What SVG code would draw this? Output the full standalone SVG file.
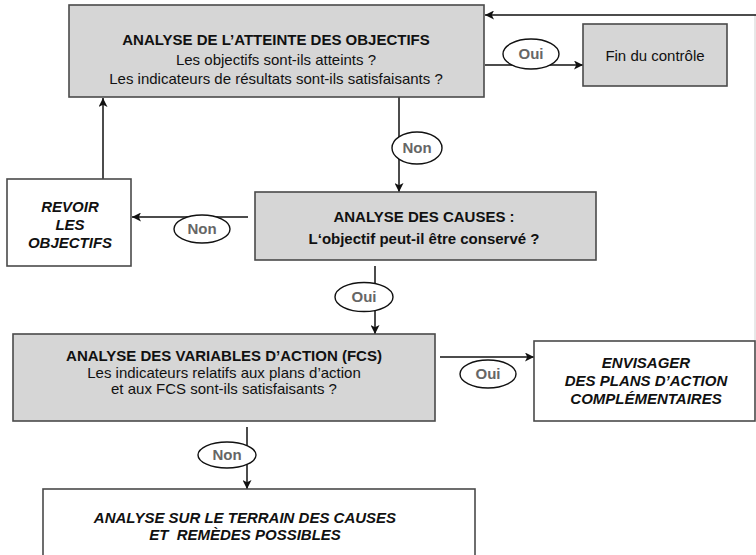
<svg xmlns="http://www.w3.org/2000/svg" width="756" height="555" viewBox="0 0 756 555">
  <defs>
    <marker id="arrow" viewBox="0 0 10 10" refX="10" refY="5" markerWidth="9" markerHeight="9" markerUnits="userSpaceOnUse" orient="auto">
      <path d="M0,0 L10,5 L0,10 L2.5,5 z" fill="#111"/>
    </marker>
    <style>
      .box { fill: #d6d6d6; stroke: #4a4a4a; stroke-width: 1.6; }
      .plain { fill: #ffffff; stroke: #4a4a4a; stroke-width: 1.6; }
      .line { fill: none; stroke: #111; stroke-width: 1.5; }
      .thin { fill: none; stroke: #d0d0d0; stroke-width: 1; }
      .oval { fill: #ffffff; stroke: #111; stroke-width: 1.4; }
      text { font-family: "Liberation Sans", Arial, sans-serif; fill: #111; text-anchor: middle; }
      .t { font-size: 15px; font-weight: bold; }
      .n { font-size: 15px; }
      .i { font-size: 15px; font-weight: bold; font-style: italic; }
      .lbl { font-size: 15px; font-weight: bold; fill: #666; }
    </style>
  </defs>

  <!-- connectors -->
  <g id="connectors">
    <!-- feedback from the right edge back to the top box -->
    <line class="thin" x1="755" y1="15" x2="755" y2="341"/>
    <line class="line" x1="756" y1="15" x2="485" y2="15" marker-end="url(#arrow)"/>
    <!-- top box -> Fin du contrôle -->
    <line class="line" x1="485" y1="65" x2="583" y2="65" marker-end="url(#arrow)"/>
    <!-- top box -> causes -->
    <line class="line" x1="399" y1="97" x2="399" y2="192" marker-end="url(#arrow)"/>
    <!-- causes -> revoir -->
    <line class="line" x1="248" y1="217" x2="132" y2="217" marker-end="url(#arrow)"/>
    <!-- revoir -> top box -->
    <line class="line" x1="103" y1="179" x2="103" y2="98" marker-end="url(#arrow)"/>
    <!-- causes -> FCS -->
    <line class="line" x1="375" y1="266" x2="375" y2="334" marker-end="url(#arrow)"/>
    <!-- FCS -> envisager -->
    <line class="line" x1="440" y1="357" x2="534" y2="357" marker-end="url(#arrow)"/>
    <!-- FCS -> terrain -->
    <line class="line" x1="247" y1="427" x2="247" y2="489" marker-end="url(#arrow)"/>

    <ellipse class="oval" cx="531" cy="54" rx="28" ry="15"/>
    <text class="lbl" x="531" y="59">Oui</text>
    <ellipse class="oval" cx="417" cy="148" rx="25" ry="16"/>
    <text class="lbl" x="417" y="153">Non</text>
    <ellipse class="oval" cx="202" cy="229" rx="28" ry="14"/>
    <text class="lbl" x="202" y="234">Non</text>
    <ellipse class="oval" cx="364" cy="297" rx="29" ry="14.5"/>
    <text class="lbl" x="364" y="302">Oui</text>
    <ellipse class="oval" cx="488" cy="374" rx="28" ry="14"/>
    <text class="lbl" x="488" y="379">Oui</text>
    <ellipse class="oval" cx="227" cy="455" rx="29" ry="13"/>
    <text class="lbl" x="227" y="460">Non</text>
  </g>

  <g id="atteinte">
    <rect class="box" x="69" y="5" width="415" height="92"/>
    <text class="t" x="276" y="45">ANALYSE DE L’ATTEINTE DES OBJECTIFS</text>
    <text class="n" x="276" y="65">Les objectifs sont-ils atteints ?</text>
    <text class="n" x="276" y="84">Les indicateurs de résultats sont-ils satisfaisants ?</text>
  </g>

  <g id="fin">
    <rect class="box" x="583" y="24" width="144" height="62"/>
    <text class="n" x="655" y="61">Fin du contrôle</text>
  </g>

  <g id="causes">
    <rect class="box" x="255" y="192" width="341" height="68"/>
    <text class="t" x="424" y="222">ANALYSE DES CAUSES :</text>
    <text class="t" x="424" y="244">L‘objectif peut-il être conservé ?</text>
  </g>

  <g id="revoir">
    <rect class="plain" x="7" y="179" width="124" height="87"/>
    <text class="i" x="70" y="212">REVOIR</text>
    <text class="i" x="70" y="230">LES</text>
    <text class="i" x="70" y="248">OBJECTIFS</text>
  </g>

  <g id="fcs">
    <rect class="box" x="13" y="334" width="422" height="87"/>
    <text class="t" x="224" y="361">ANALYSE DES VARIABLES D’ACTION (FCS)</text>
    <text class="n" x="224" y="378">Les indicateurs relatifs aux plans d’action</text>
    <text class="n" x="224" y="394">et aux FCS sont-ils satisfaisants ?</text>
  </g>

  <g id="envisager">
    <rect class="plain" x="534" y="341" width="221" height="80"/>
    <text class="i" x="646" y="368">ENVISAGER</text>
    <text class="i" x="646" y="386">DES PLANS D’ACTION</text>
    <text class="i" x="646" y="404">COMPLÉMENTAIRES</text>
  </g>

  <g id="terrain">
    <rect class="plain" x="43" y="489" width="432" height="80"/>
    <text class="i" x="245" y="523">ANALYSE SUR LE TERRAIN DES CAUSES</text>
    <text class="i" x="245" y="540" xml:space="preserve">ET  REMÈDES POSSIBLES</text>
  </g>
</svg>
